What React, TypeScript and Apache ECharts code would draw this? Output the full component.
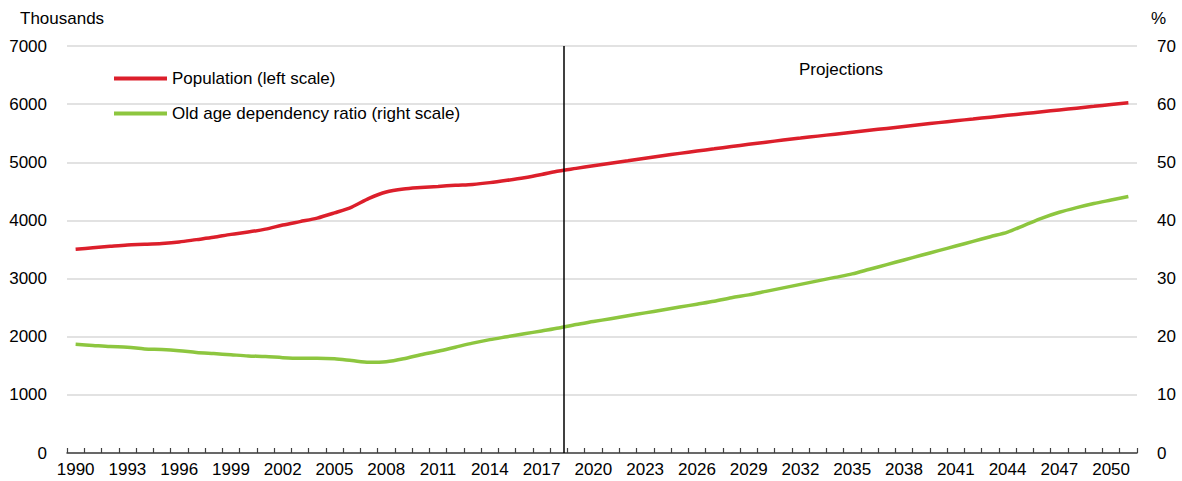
import React, { useEffect, useRef } from "react";
import * as echarts from "echarts";

const years = [
  "1990","1991","1992","1993","1994","1995","1996","1997","1998","1999",
  "2000","2001","2002","2003","2004","2005","2006","2007","2008","2009",
  "2010","2011","2012","2013","2014","2015","2016","2017","2018","2019",
  "2020","2021","2022","2023","2024","2025","2026","2027","2028","2029",
  "2030","2031","2032","2033","2034","2035","2036","2037","2038","2039",
  "2040","2041","2042","2043","2044","2045","2046","2047","2048","2049",
  "2050","2051",
];

const population = [
  3505, 3530, 3555, 3578, 3590, 3605, 3630, 3670, 3710, 3760,
  3800, 3850, 3920, 3980, 4040, 4130, 4230, 4380, 4490, 4540,
  4565, 4585, 4605, 4620, 4650, 4690, 4735, 4790, 4850, 4895,
  4940, 4984, 5027, 5070, 5112, 5153, 5193, 5232, 5271, 5309,
  5346, 5382, 5416, 5450, 5484, 5517, 5550, 5583, 5616, 5649,
  5682, 5714, 5745, 5776, 5807, 5838, 5869, 5900, 5931, 5962,
  5993, 6022,
];

const oldAgeRatio = [
  18.7, 18.5, 18.3, 18.2, 17.9, 17.8, 17.6, 17.3, 17.1, 16.9,
  16.7, 16.6, 16.4, 16.3, 16.3, 16.2, 15.9, 15.6, 15.7, 16.2,
  16.9, 17.5, 18.2, 18.9, 19.5, 20.0, 20.5, 21.0, 21.5, 22.1,
  22.6, 23.1, 23.6, 24.1, 24.6, 25.1, 25.6, 26.1, 26.7, 27.2,
  27.8, 28.4, 29.0, 29.6, 30.2, 30.8, 31.6, 32.4, 33.2, 34.0,
  34.8, 35.6, 36.4, 37.2, 38.0, 39.2, 40.4, 41.4, 42.2, 42.9,
  43.5, 44.1,
];

const seriesNames = ["Population (left scale)", "Old age dependency ratio (right scale)"];
const leftAxisTitle = "Thousands";
const rightAxisTitle = "%";
const projectionLabel = "Projections";
const projectionStart = 2018.3; // year position of divider

const FONT = "'Liberation Sans', Arial, sans-serif";
const FS = 17;
const RED = "#dc1f2b";
const GREEN = "#8dc63f";

export default function App() {
  const ref = useRef<HTMLDivElement>(null);
  useEffect(() => {
    if (!ref.current) return;
    const chart = echarts.init(ref.current, null, { renderer: "svg" });
    const firstYear = Number(years[0]);
    const dividerPos = projectionStart - firstYear + 0.5;
    chart.setOption({
      animation: false,
      textStyle: { fontFamily: FONT },
      grid: { left: 67, right: 45, top: 46, bottom: 28, containLabel: false },
      legend: {
        orient: "vertical",
        left: 109,
        top: 65,
        itemWidth: 53,
        itemHeight: 4,
        itemGap: 18,
        icon: "rect",
        textStyle: { fontFamily: FONT, fontSize: FS, color: "#000" },
        data: seriesNames,
      },
      xAxis: [
        {
          type: "category",
          data: years,
          boundaryGap: true,
          axisLine: { lineStyle: { color: "#404040", width: 1.5 } },
          axisTick: { show: true, inside: true, length: 5, interval: 0, lineStyle: { color: "#404040", width: 1.2 } },
          axisLabel: { interval: 2, fontFamily: FONT, fontSize: FS, color: "#000", margin: 8 },
          splitLine: { show: false },
        },
        {
          type: "value",
          min: 0,
          max: years.length,
          show: false,
        },
      ],
      yAxis: [
        {
          type: "value",
          min: 0,
          max: 7000,
          interval: 1000,
          axisLine: { show: false },
          axisTick: { show: false },
          axisLabel: { fontFamily: FONT, fontSize: FS, color: "#000", margin: 20, formatter: (v: number) => String(v) },
          splitLine: { lineStyle: { color: "#d9d9d9", width: 1.5 } },
        },
        {
          type: "value",
          min: 0,
          max: 70,
          interval: 10,
          position: "right",
          axisLine: { show: false },
          axisTick: { show: false },
          axisLabel: { fontFamily: FONT, fontSize: FS, color: "#000", margin: 20, formatter: (v: number) => String(v) },
          splitLine: { show: false },
        },
      ],
      series: [
        {
          name: seriesNames[0],
          type: "line",
          data: population,
          xAxisIndex: 0,
          yAxisIndex: 0,
          showSymbol: false,
          symbol: "none",
          smooth: 0.3,
          lineStyle: { color: RED, width: 3.5 },
          itemStyle: { color: RED },
          z: 3,
        },
        {
          name: seriesNames[1],
          type: "line",
          data: oldAgeRatio,
          xAxisIndex: 0,
          yAxisIndex: 1,
          showSymbol: false,
          symbol: "none",
          smooth: 0.3,
          lineStyle: { color: GREEN, width: 3.5 },
          itemStyle: { color: GREEN },
          z: 3,
        },
        {
          name: "divider",
          type: "line",
          data: [],
          xAxisIndex: 1,
          yAxisIndex: 0,
          markLine: {
            silent: true,
            symbol: "none",
            label: { show: false },
            lineStyle: { color: "#000", width: 1.5, type: "solid" },
            data: [{ xAxis: dividerPos }],
          },
          z: 4,
        },
      ],
      graphic: [
        {
          type: "text",
          left: 20,
          top: 10,
          style: { text: leftAxisTitle, font: `${FS}px ${FONT}`, fill: "#000" },
        },
        {
          type: "text",
          left: 1151,
          top: 10,
          style: { text: rightAxisTitle, font: `${FS}px ${FONT}`, fill: "#000" },
        },
        {
          type: "text",
          left: 799,
          top: 61,
          style: { text: projectionLabel, font: `${FS}px ${FONT}`, fill: "#000" },
        },
      ],
    });
    return () => chart.dispose();
  }, []);
  return (
    <div
      ref={ref}
      style={{ position: "absolute", left: 0, top: 0, width: 1182, height: 481 }}
    />
  );
}
